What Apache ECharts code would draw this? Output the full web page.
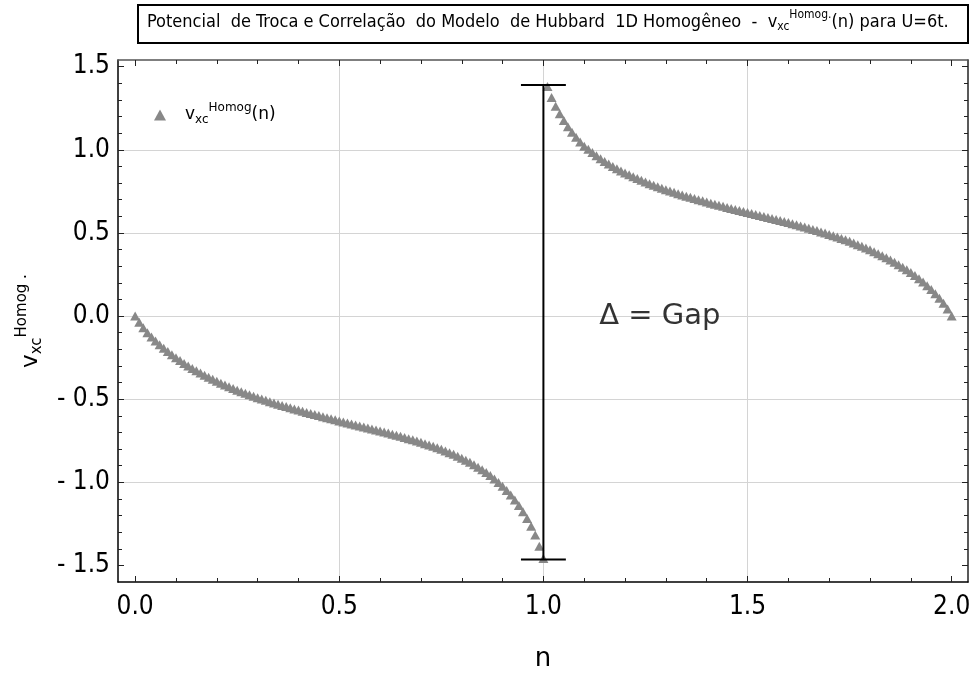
<!DOCTYPE html>
<html><head><meta charset="utf-8">
<script src="https://cdn.jsdelivr.net/npm/echarts@6/dist/echarts.min.js"></script>
<style>html,body{margin:0;padding:0;background:#fff}#c{width:975px;height:677px}</style>
</head><body><div id="c"></div>
<script>
// ---- data ----
const nLower = [0.00,0.01,0.02,0.03,0.04,0.05,0.06,0.07,0.08,0.09,
0.10,0.11,0.12,0.13,0.14,0.15,0.16,0.17,0.18,0.19,
0.20,0.21,0.22,0.23,0.24,0.25,0.26,0.27,0.28,0.29,
0.30,0.31,0.32,0.33,0.34,0.35,0.36,0.37,0.38,0.39,
0.40,0.41,0.42,0.43,0.44,0.45,0.46,0.47,0.48,0.49,
0.50,0.51,0.52,0.53,0.54,0.55,0.56,0.57,0.58,0.59,
0.60,0.61,0.62,0.63,0.64,0.65,0.66,0.67,0.68,0.69,
0.70,0.71,0.72,0.73,0.74,0.75,0.76,0.77,0.78,0.79,
0.80,0.81,0.82,0.83,0.84,0.85,0.86,0.87,0.88,0.89,
0.90,0.91,0.92,0.93,0.94,0.95,0.96,0.97,0.98,0.99,
1.00];
const vLower = [0.000,-0.038,-0.071,-0.100,-0.126,-0.150,-0.173,-0.194,-0.214,-0.233,
-0.251,-0.268,-0.285,-0.300,-0.315,-0.329,-0.343,-0.356,-0.369,-0.381,
-0.393,-0.404,-0.415,-0.426,-0.436,-0.446,-0.455,-0.464,-0.473,-0.482,
-0.491,-0.499,-0.507,-0.515,-0.523,-0.531,-0.538,-0.545,-0.552,-0.559,
-0.566,-0.573,-0.580,-0.586,-0.593,-0.599,-0.606,-0.612,-0.618,-0.624,
-0.631,-0.637,-0.643,-0.649,-0.655,-0.661,-0.667,-0.673,-0.679,-0.685,
-0.692,-0.698,-0.704,-0.711,-0.717,-0.724,-0.731,-0.738,-0.745,-0.752,
-0.760,-0.768,-0.776,-0.784,-0.793,-0.802,-0.812,-0.822,-0.832,-0.843,
-0.855,-0.867,-0.880,-0.894,-0.909,-0.925,-0.942,-0.960,-0.980,-1.001,
-1.024,-1.049,-1.077,-1.107,-1.140,-1.177,-1.218,-1.264,-1.318,-1.385,
-1.458];
const nUpper = [1.01,1.02,1.03,1.04,1.05,1.06,1.07,1.08,1.09,1.10,
1.11,1.12,1.13,1.14,1.15,1.16,1.17,1.18,1.19,1.20,
1.21,1.22,1.23,1.24,1.25,1.26,1.27,1.28,1.29,1.30,
1.31,1.32,1.33,1.34,1.35,1.36,1.37,1.38,1.39,1.40,
1.41,1.42,1.43,1.44,1.45,1.46,1.47,1.48,1.49,1.50,
1.51,1.52,1.53,1.54,1.55,1.56,1.57,1.58,1.59,1.60,
1.61,1.62,1.63,1.64,1.65,1.66,1.67,1.68,1.69,1.70,
1.71,1.72,1.73,1.74,1.75,1.76,1.77,1.78,1.79,1.80,
1.81,1.82,1.83,1.84,1.85,1.86,1.87,1.88,1.89,1.90,
1.91,1.92,1.93,1.94,1.95,1.96,1.97,1.98,1.99,2.00];
const vUpper = [1.380,1.315,1.262,1.216,1.176,1.139,1.106,1.075,1.047,1.021,
1.003,0.983,0.964,0.946,0.930,0.915,0.900,0.886,0.873,0.861,
0.849,0.838,0.827,0.816,0.806,0.796,0.787,0.778,0.769,0.760,
0.752,0.744,0.736,0.728,0.721,0.714,0.707,0.700,0.693,0.686,
0.679,0.673,0.666,0.660,0.653,0.647,0.641,0.635,0.629,0.623,
0.617,0.611,0.605,0.599,0.593,0.587,0.581,0.575,0.568,0.562,
0.555,0.549,0.542,0.535,0.528,0.521,0.514,0.506,0.499,0.491,
0.483,0.475,0.466,0.458,0.449,0.439,0.429,0.419,0.409,0.398,
0.387,0.375,0.363,0.350,0.337,0.323,0.309,0.294,0.278,0.261,
0.243,0.224,0.204,0.182,0.159,0.134,0.107,0.077,0.042,0.000];

// gap annotation
const gapN = 1.0;
const gapLow = -1.465;
const gapHigh = 1.39;
const capHalfWidth = 0.055;
const gapLabelPos = [1.285, 0.0];

// axes
const xRange = [-0.042, 2.04];
const yRange = [-1.6, 1.54];
const xMajor = [0, 0.5, 1.0, 1.5, 2.0];
const xGrid = [0.5, 1.0, 1.5];
const xMinor = [0.1,0.2,0.3,0.4,0.6,0.7,0.8,0.9,1.1,1.2,1.3,1.4,1.6,1.7,1.8,1.9];
const yMajor = [-1.5, -1.0, -0.5, 0.0, 0.5, 1.0, 1.5];
const yGrid = [-1.0, -0.5, 0.0, 0.5, 1.0];
const yMinor = [-1.4,-1.3,-1.2,-1.1,-0.9,-0.8,-0.7,-0.6,-0.4,-0.3,-0.2,-0.1,0.1,0.2,0.3,0.4,0.6,0.7,0.8,0.9,1.1,1.2,1.3,1.4];

const FONT = 'DejaVu Sans Condensed, DejaVu Sans, sans-serif';
const FONT_REG = 'DejaVu Sans, sans-serif';
const LABEL_FS = 26;

function fmt(v) {
  return v < 0 ? '- ' + Math.abs(v).toFixed(1) : v.toFixed(1);
}

function xAx(position, opts) {
  return Object.assign({
    type: 'value', position: position, min: xRange[0], max: xRange[1],
    axisLine: { show: false, onZero: false },
    axisTick: { show: false },
    axisLabel: { show: false },
    splitLine: { show: false }
  }, opts);
}
function yAx(position, opts) {
  return Object.assign({
    type: 'value', position: position, min: yRange[0], max: yRange[1],
    axisLine: { show: false, onZero: false },
    axisTick: { show: false },
    axisLabel: { show: false },
    splitLine: { show: false }
  }, opts);
}
const majorTick = (vals) => ({ show: true, inside: true, length: 6, customValues: vals, lineStyle: { color: '#222', width: 1 } });
const minorTick = (vals) => ({ show: true, inside: true, length: 4, customValues: vals, lineStyle: { color: '#222', width: 1 } });

const richSubSup = (base, sub, sup, family) => ({
  b: { fontSize: base, fontFamily: family, color: '#000' },
  sub: { fontSize: sub, fontFamily: family, color: '#000', padding: [Math.round(sub * 0.8), 0, 0, 0] },
  sup: { fontSize: sup, fontFamily: family, color: '#000', padding: [0, 0, Math.round(sup * 1.2), 0] },
  sp: { width: 14 }
});

const points = [];
nLower.forEach((n, i) => points.push([n, vLower[i]]));
nUpper.forEach((n, i) => points.push([n, vUpper[i]]));

const chart = echarts.init(document.getElementById('c'), null, { renderer: 'canvas' });
const option = {
  backgroundColor: '#fff',
  animation: false,
  grid: { left: 118, right: 7, top: 60, bottom: 93, show: false },
  graphic: [
    { type: 'rect', left: 137, top: 4, shape: { width: 830, height: 38 },
      style: { fill: '#fff', stroke: '#000', lineWidth: 2 }, z: 10 },
    { type: 'text', left: 147, top: 9, z: 11,
      style: {
        text: 'Potencial  de Troca e Correlação  do Modelo  de Hubbard  1D Homogêneo  -  v{sub|xc}{sup|Homog.}(n) para U=6t.',
        fontSize: 18, fontFamily: FONT, fill: '#000',
        rich: richSubSup(18, 12, 12, FONT)
      } }
  ],
  legend: {
    show: true, left: 149, top: 97, icon: 'triangle', itemWidth: 12, itemHeight: 11,
    data: ['vxc'],
    formatter: () => '{sp|}{b|v}{sub|xc}{sup|Homog}{b|(n)}',
    textStyle: { fontSize: 17, fontFamily: FONT_REG, color: '#000', rich: richSubSup(17, 12, 12, FONT_REG) }
  },
  xAxis: [
    xAx('bottom', {
      axisLine: { show: true, onZero: false, lineStyle: { color: '#000', width: 1.5 } },
      axisTick: majorTick(xMajor),
      axisLabel: { show: true, customValues: xMajor, formatter: fmt, fontSize: LABEL_FS, fontFamily: FONT, color: '#000', margin: 12 },
      name: 'n', nameLocation: 'middle', nameGap: 64,
      nameTextStyle: { fontSize: LABEL_FS, fontFamily: FONT_REG, color: '#000' }
    }),
    xAx('bottom', { axisTick: minorTick(xMinor) }),
    xAx('top', {
      axisLine: { show: true, onZero: false, lineStyle: { color: '#555', width: 1.5 } },
      axisTick: majorTick(xMajor)
    }),
    xAx('top', { axisTick: minorTick(xMinor) }),
    xAx('bottom', { axisTick: { show: false, customValues: xGrid },
      splitLine: { show: true, lineStyle: { color: '#d4d4d4', width: 1 } } })
  ],
  yAxis: [
    yAx('left', {
      axisLine: { show: true, onZero: false, lineStyle: { color: '#000', width: 1.5 } },
      axisTick: majorTick(yMajor),
      axisLabel: { show: true, customValues: yMajor, formatter: fmt, fontSize: LABEL_FS, fontFamily: FONT, color: '#000', margin: 8 },
      name: '{b|v}{sub|xc}{sup|Homog .}', nameLocation: 'middle', nameGap: 70, nameRotate: 90,
      nameTextStyle: { fontSize: 23, fontFamily: FONT_REG, color: '#000', rich: richSubSup(23, 15, 15, FONT_REG) }
    }),
    yAx('left', { axisTick: minorTick(yMinor) }),
    yAx('right', {
      axisLine: { show: true, onZero: false, lineStyle: { color: '#222', width: 1.5 } },
      axisTick: majorTick(yMajor)
    }),
    yAx('right', { axisTick: minorTick(yMinor) }),
    yAx('left', { axisTick: { show: false, customValues: yGrid },
      splitLine: { show: true, lineStyle: { color: '#d4d4d4', width: 1 } } })
  ],
  series: [
    {
      name: 'vxc', type: 'scatter', xAxisIndex: 0, yAxisIndex: 0,
      symbol: 'triangle', symbolSize: [10, 9],
      itemStyle: { color: '#888', opacity: 1 },
      data: points, z: 3
    },
    {
      name: 'gapLine', type: 'line', xAxisIndex: 0, yAxisIndex: 0, symbol: 'none', silent: true,
      lineStyle: { color: '#000', width: 2 }, z: 5,
      data: [[gapN, gapLow], [gapN, gapHigh]]
    },
    {
      name: 'gapCapTop', type: 'line', xAxisIndex: 0, yAxisIndex: 0, symbol: 'none', silent: true,
      lineStyle: { color: '#000', width: 2 }, z: 5,
      data: [[gapN - capHalfWidth, gapHigh], [gapN + capHalfWidth, gapHigh]]
    },
    {
      name: 'gapCapBottom', type: 'line', xAxisIndex: 0, yAxisIndex: 0, symbol: 'none', silent: true,
      lineStyle: { color: '#000', width: 2 }, z: 5,
      data: [[gapN - capHalfWidth, gapLow], [gapN + capHalfWidth, gapLow]]
    },
    {
      name: 'gapLabel', type: 'scatter', xAxisIndex: 0, yAxisIndex: 0, symbolSize: 0, silent: true,
      data: [gapLabelPos],
      label: { show: true, position: 'inside', formatter: 'Δ = Gap', fontSize: 29, fontFamily: FONT_REG, color: '#000' }
    }
  ]
};
chart.setOption(option);
</script>
</body></html>
